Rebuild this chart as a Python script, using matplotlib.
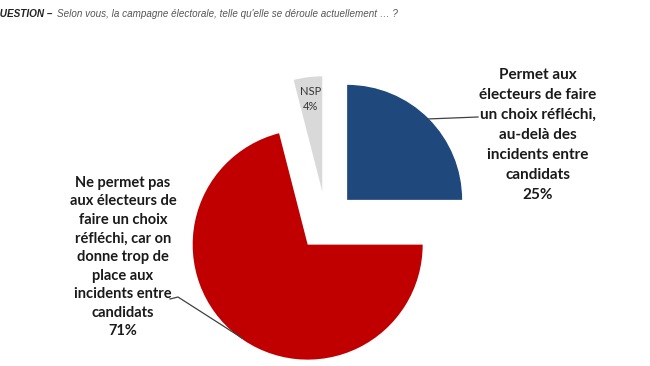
import matplotlib
matplotlib.use("Agg")
import matplotlib.pyplot as plt

# data
labels = ["Permet aux\nélecteurs de faire\nun choix réfléchi,\nau-delà des\nincidents entre\ncandidats",
          "Ne permet pas\naux électeurs de\nfaire un choix\nréfléchi, car on\ndonne trop de\nplace aux\nincidents entre\ncandidats",
          "NSP"]
values = [25, 71, 4]
colors = ["#1F497D", "#C00000", "#D9D9D9"]
question = "QUESTION –"
subtitle = "Selon vous, la campagne électorale, telle qu'elle se déroule actuellement … ?"

# pie geometry in pixels of the 650x366 picture
CX, CY, R = 326, 221, 115


def px(x, y):
    return (x - CX) / R, (CY - y) / R


fig = plt.figure(figsize=(6.5, 3.66), dpi=100)
ax = fig.add_axes([0, 0, 1, 1])
ax.pie(values, colors=colors, startangle=90, counterclock=False,
       explode=[0.26, 0.26, 0.26], radius=1, center=(0, 0),
       wedgeprops=dict(linewidth=0))
ax.set_xlim(px(0, 0)[0], px(650, 0)[0])
ax.set_ylim(px(0, 366)[1], px(0, 0)[1])
ax.set_aspect("auto")
ax.axis("off")

# title line, cut off at the left like the source
fig.text(52 / 650, 1 - 14 / 366, question, ha="right", va="center", fontsize=7.2,
         fontweight="bold", fontstyle="italic", family="Liberation Sans", color="#222222")
fig.text(57 / 650, 1 - 14 / 366, subtitle, ha="left", va="center", fontsize=7.1,
         fontstyle="italic", family="Liberation Sans", color="#555555")

lab_font = dict(fontweight="bold", family="Lato", color="#1a1a1a",
                ha="center", va="center")

# right label (25%)
x, y = px(538, 135)
ax.text(x, y, labels[0] + "\n" + f"{values[0]}%", fontsize=11, linespacing=1.55, **lab_font)
ax.plot(*zip(px(427, 119), px(478, 117)), color="#404040", lw=0.9)

# left label (71%)
x, y = px(123, 257)
ax.text(x, y, labels[1] + "\n" + f"{values[1]}%", fontsize=10.5, linespacing=1.41, **lab_font)
ax.plot(*zip(px(170, 299), px(178, 297), px(242, 338)), color="#404040", lw=0.9)

# NSP label inside the thin slice
x, y = px(311, 99)
ax.text(x, y, f"{labels[2]}\n{values[2]}%", ha="center", va="center", fontsize=8,
        family="Lato", color="#333333", linespacing=1.5)

fig.savefig("out.png", dpi=100)
